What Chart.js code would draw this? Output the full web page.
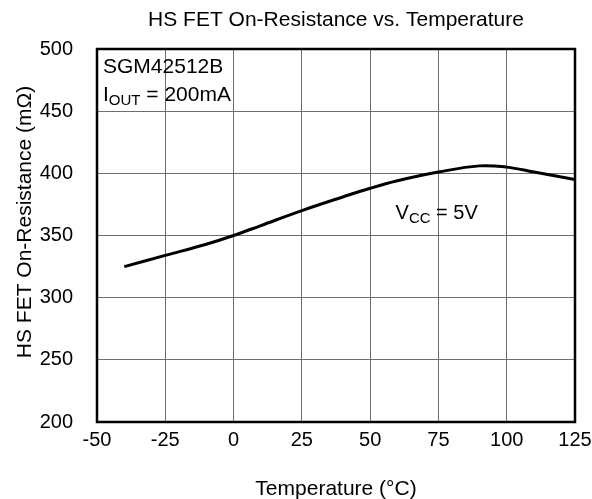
<!DOCTYPE html>
<html><head><meta charset="utf-8">
<script src="https://cdn.jsdelivr.net/npm/chart.js@4/dist/chart.umd.min.js"></script>
<style>html,body{margin:0;padding:0;background:#fff}#wrap{width:592px;height:499px}</style>
</head><body><div id="wrap"><canvas id="c" width="592" height="499"></canvas></div>
<script>
const temperature = [-40, -25, -10, 0, 10, 25, 40, 50, 60, 75, 90, 100, 110, 125];
const resistance = [325, 334, 343, 350, 358, 370, 381, 388, 394, 401, 406, 405, 401, 395];
const xTicks = [-50, -25, 0, 25, 50, 75, 100, 125];
const yTicks = [200, 250, 300, 350, 400, 450, 500];
const title = 'HS FET On-Resistance vs. Temperature';
const xTitle = 'Temperature (°C)';
const yTitle = 'HS FET On-Resistance (mΩ)';

const FONT = '"Liberation Sans", Arial, sans-serif';

const overlay = {
  id: 'overlay',
  afterDraw(chart) {
    const {ctx, chartArea: a, scales} = chart;
    ctx.save();
    ctx.strokeStyle = '#000'; ctx.lineWidth = 2.5;
    ctx.strokeRect(a.left, a.top, a.right - a.left, a.bottom - a.top);
    ctx.fillStyle = '#000';
    ctx.textBaseline = 'alphabetic';
    ctx.font = '21px ' + FONT; ctx.textAlign = 'center';
    ctx.fillText(title, (a.left + a.right) / 2, 26);
    ctx.fillText(xTitle, (a.left + a.right) / 2, 495);
    ctx.save();
    ctx.translate(31, 222);
    ctx.rotate(-Math.PI / 2);
    ctx.fillText(yTitle, 0, 0);
    ctx.restore();
    ctx.textAlign = 'left';
    ctx.font = '21px ' + FONT;
    const x0 = scales.x.getPixelForValue(-47.8);
    ctx.fillText('SGM42512B', x0, 73);
    let x = x0;
    ctx.fillText('I', x, 101); x += ctx.measureText('I').width;
    ctx.font = '15px ' + FONT;
    ctx.fillText('OUT', x, 105); x += ctx.measureText('OUT').width;
    ctx.font = '21px ' + FONT;
    ctx.fillText(' = 200mA', x, 101);
    let vx = scales.x.getPixelForValue(59.3);
    const vy = scales.y.getPixelForValue(363);
    ctx.font = '20px ' + FONT;
    ctx.fillText('V', vx, vy); vx += ctx.measureText('V').width;
    ctx.font = '15px ' + FONT;
    ctx.fillText('CC', vx, vy + 4); vx += ctx.measureText('CC').width;
    ctx.font = '20px ' + FONT;
    ctx.fillText(' = 5V', vx, vy);
    ctx.restore();
  }
};

new Chart(document.getElementById('c'), {
  type: 'line',
  data: {
    datasets: [{
      data: temperature.map((t, i) => ({x: t, y: resistance[i]})),
      borderColor: '#000', borderWidth: 3, pointRadius: 0,
      tension: 0.4, fill: false
    }]
  },
  options: {
    responsive: false, animation: false,
    layout: {padding: {left: 0, right: 17, top: 49, bottom: 0}},
    plugins: {legend: {display: false}, tooltip: {enabled: false}, title: {display: false}},
    scales: {
      x: {
        type: 'linear', min: -50, max: 125,
        afterBuildTicks: s => { s.ticks = xTicks.map(v => ({value: v})); },
        afterFit: s => { s.height = 77; s.paddingLeft = 0; s.paddingRight = 0; },
        grid: {color: '#6e6e6e', lineWidth: 1, drawTicks: false},
        border: {display: false},
        ticks: {color: '#000', font: {family: FONT, size: 20}, padding: 6, maxRotation: 0}
      },
      y: {
        min: 200, max: 500,
        afterBuildTicks: s => { s.ticks = yTicks.map(v => ({value: v})); },
        afterFit: s => { s.width = 97; s.paddingTop = 0; s.paddingBottom = 0; },
        grid: {color: '#6e6e6e', lineWidth: 1, drawTicks: false},
        border: {display: false},
        ticks: {color: '#000', font: {family: FONT, size: 20}, padding: 24}
      }
    }
  },
  plugins: [overlay]
});
</script></body></html>
